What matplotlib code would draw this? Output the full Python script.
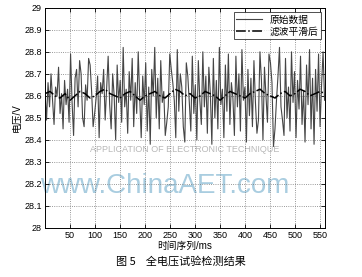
import numpy as np
import matplotlib
matplotlib.use("Agg")
import matplotlib.pyplot as plt

plt.rcParams["font.family"] = ["Liberation Sans", "Noto Sans CJK SC", "DejaVu Sans"]

# ── data ──────────────────────────────────────────────────────
raw_v = [
    28.62, 28.49, 28.66, 28.55, 28.70, 28.58, 28.47, 28.64, 28.60, 28.73, 28.52, 28.61, 28.45, 28.67, 28.56, 28.63, 28.48, 28.79, 28.57, 28.42,
    28.68, 28.72, 28.55, 28.76, 28.70, 28.50, 28.46, 28.65, 28.58, 28.77, 28.74, 28.62, 28.46, 28.52, 28.59, 28.69, 28.41, 28.66, 28.61, 28.72,
    28.49, 28.63, 28.78, 28.56, 28.45, 28.70, 28.60, 28.40, 28.74, 28.57, 28.67, 28.48, 28.82, 28.55, 28.63, 28.43, 28.71, 28.58, 28.77, 28.46,
    28.66, 28.52, 28.80, 28.59, 28.41, 28.69, 28.56, 28.75, 28.44, 28.64, 28.38, 28.72, 28.60, 28.82, 28.50, 28.68, 28.45, 28.76, 28.57, 28.62,
    28.42, 28.48, 28.55, 28.79, 28.72, 28.66, 28.58, 28.41, 28.81, 28.53, 28.70, 28.64, 28.46, 28.39, 28.75, 28.69, 28.57, 28.44, 28.78, 28.52,
    28.65, 28.40, 28.76, 28.58, 28.47, 28.80, 28.55, 28.69, 28.43, 28.73, 28.61, 28.38, 28.77, 28.50, 28.67, 28.45, 28.82, 28.56, 28.63, 28.41,
    28.74, 28.53, 28.79, 28.47, 28.66, 28.59, 28.42, 28.78, 28.55, 28.70, 28.44, 28.81, 28.58, 28.64, 28.39, 28.72, 28.51, 28.68, 28.46, 28.76,
    28.57, 28.43, 28.49, 28.80, 28.67, 28.40, 28.73, 28.60, 28.48, 28.79, 28.75, 28.66, 28.37, 28.45, 28.58, 28.69, 28.82, 28.55, 28.49, 28.42,
    28.77, 28.50, 28.64, 28.44, 28.80, 28.57, 28.71, 28.41, 28.67, 28.54, 28.78, 28.47, 28.62, 28.39, 28.74, 28.56, 28.81, 28.45, 28.68, 28.38,
    28.72, 28.53, 28.79, 28.46, 28.65, 28.80, 28.58,
]
filt_v = [
    28.61, 28.62, 28.60, 28.59, 28.61, 28.58, 28.60, 28.62, 28.61, 28.59,
    28.60, 28.62, 28.63, 28.61, 28.60, 28.59, 28.61, 28.62, 28.60, 28.58,
    28.60, 28.61, 28.62, 28.60, 28.59, 28.61, 28.63, 28.62, 28.60, 28.61,
    28.59, 28.60, 28.62, 28.61, 28.60, 28.58, 28.60, 28.62, 28.61, 28.60,
    28.59, 28.61, 28.62, 28.63, 28.61, 28.60, 28.59, 28.61, 28.62, 28.60,
    28.61, 28.63, 28.62, 28.60, 28.61, 28.62, 28.61,
]
x_ticks = [50, 100, 150, 200, 250, 300, 350, 400, 450, 500, 550]
y_ticks = [28, 28.1, 28.2, 28.3, 28.4, 28.5, 28.6, 28.7, 28.8, 28.9, 29]
y_labels = ["28", "28.1", "28.2", "28.3", "28.4", "28.5", "28.6", "28.7", "28.8", "28.9", "29"]

t_raw = np.linspace(1, 559, len(raw_v))
t_filt = np.linspace(1, 560, len(filt_v))

fig = plt.figure(figsize=(3.62, 2.77), dpi=100)
ax = fig.add_axes([0.123, 0.177, 0.775, 0.795])

# watermark text
ax.text(0.5, 0.355, "APPLICATION OF ELECTRONIC TECHNIQUE", transform=ax.transAxes,
        ha="center", va="center", fontsize=6.5, color="#b8b8b8", zorder=0)
ax.text(0.43, 0.19, "www.ChinaAET.com", transform=ax.transAxes,
        ha="center", va="center", fontsize=20, color="#a9cde0", zorder=0)

ax.plot(t_raw, raw_v, color="#454545", lw=0.8, label="原始数据")
ax.plot(t_filt, filt_v, color="black", lw=1.1, ls="-.", label="滤波平滑后")

ax.set_xlim(0, 560)
ax.set_ylim(28, 29)
ax.set_xticks(x_ticks)
ax.set_yticks(y_ticks)
ax.set_yticklabels(y_labels)
ax.tick_params(direction="in", top=True, right=True, labelsize=6.5, length=3, width=0.6, pad=2)
ax.grid(True, ls=":", color="#777777", lw=0.6)
for s in ax.spines.values():
    s.set_linewidth(0.7)

ax.set_xlabel("时间序列/ms", fontsize=7, labelpad=1)
ax.set_ylabel("电压/V", fontsize=7, labelpad=2)

leg = ax.legend(loc="upper right", fontsize=7, frameon=True, fancybox=False,
                edgecolor="black", borderpad=0.3, handlelength=2.6,
                labelspacing=0.2, borderaxespad=0.4)
leg.get_frame().set_linewidth(0.6)

fig.text(0.5, 0.055, "图 5    全电压试验检测结果", ha="center", va="center",
         fontsize=8, family=["Noto Sans CJK SC", "DejaVu Sans"])

fig.savefig("out.png", dpi=100)
